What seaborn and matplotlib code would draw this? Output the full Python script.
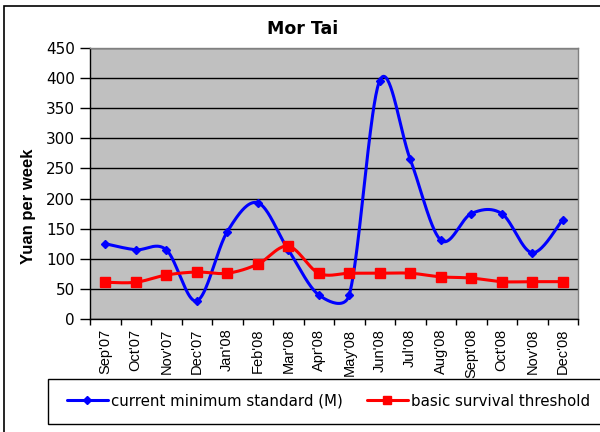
import numpy as np
import pandas as pd
import matplotlib
matplotlib.use("Agg")
import matplotlib.pyplot as plt
import seaborn as sns
from matplotlib.patches import Rectangle
from matplotlib.lines import Line2D

months = ["Sep'07", "Oct'07", "Nov'07", "Dec'07", "Jan'08", "Feb'08", "Mar'08", "Apr'08",
          "May'08", "Jun'08", "Jul'08", "Aug'08", "Sept'08", "Oct'08", "Nov'08", "Dec'08"]
current_min = [125, 115, 115, 30, 145, 193, 115, 40, 40, 396, 265, 131, 175, 175, 110, 165]
survival = [61, 61, 73, 78, 76, 91, 121, 76, 76, 76, 76, 70, 68, 62, 62, 62]
series_names = ["current minimum standard (M)", "basic survival threshold"]
title = "Mor Tai"
ylabel = "Yuan per week"

sns.set_theme(style="white")
plt.rcParams['font.family'] = ['Liberation Sans', 'DejaVu Sans']
plt.rcParams.update({"text.color": "black", "axes.labelcolor": "black",
                     "xtick.color": "black", "ytick.color": "black"})

W, H = 600, 432
L, R, T, B = 90, 578, 48, 319
XS = (R - L) / len(months)      # pixels per category
YS = (B - T) / 450.0            # pixels per unit


def smooth(x, y, n=40):
    # Excel-like smoothed line: cubic Bezier with 1/6 tangents, capped per segment
    P = np.column_stack([np.asarray(x, float) * XS, np.asarray(y, float) * YS])
    P = np.vstack([P[0], P, P[-1]])
    out = []
    for i in range(1, len(P) - 2):
        p0, p1, p2, p3 = P[i - 1], P[i], P[i + 1], P[i + 2]
        seg_len = np.hypot(*(p2 - p1))
        t1 = (p2 - p0) / 6.0
        t2 = (p3 - p1) / 6.0
        cap = 0.5 * seg_len
        for tv in (t1, t2):
            ln = np.hypot(*tv)
            if ln > cap and ln > 0:
                tv *= cap / ln
        c1 = p1 + t1
        c2 = p2 - t2
        t = np.linspace(0, 1, n)[:, None]
        seg = (1 - t) ** 3 * p1 + 3 * (1 - t) ** 2 * t * c1 + 3 * (1 - t) * t ** 2 * c2 + t ** 3 * p2
        out.append(seg if i == 1 else seg[1:])
    out = np.vstack(out)
    return out[:, 0] / XS, out[:, 1] / YS


fig = plt.figure(figsize=(6, 4.32), dpi=100)
ax = fig.add_axes([L / W, 1 - B / H, (R - L) / W, (B - T) / H])
ax.set_facecolor("#C0C0C0")

xpos = np.arange(len(months))
colors = ["#0000FF", "#FF0000"]
markers = ["D", "s"]
msizes = [4.5, 7]
for vals, name, c, m, ms in zip([current_min, survival], series_names, colors, markers, msizes):
    sx, sy = smooth(xpos, vals)
    df_s = pd.DataFrame({"x": sx, "y": sy})
    sns.lineplot(data=df_s, x="x", y="y", ax=ax, color=c, linewidth=2.2, sort=False, zorder=3)
    ax.plot(xpos, vals, linestyle="none", marker=m, color=c, markersize=ms,
            markeredgecolor=c, zorder=4)

ax.set_xlim(-0.5, len(months) - 0.5)
ax.set_ylim(0, 450)
ax.set_yticks(np.arange(0, 451, 50))
ax.yaxis.grid(True, color="black", linewidth=1.0)
ax.set_axisbelow(True)
ax.tick_params(axis="y", which="major", direction="out", length=7, width=1, color="black",
               labelcolor="black", labelsize=11, pad=4, left=True)
for lab in ax.get_yticklabels():
    lab.set_fontfamily(['DejaVu Sans'])

ax.set_xticks(np.arange(-0.5, len(months), 1))
ax.set_xticklabels([])
ax.tick_params(axis="x", which="major", direction="out", length=4, width=1, color="black", bottom=True)
ax.set_xticks(xpos, minor=True)
ax.set_xticklabels(months, minor=True, rotation=90, fontsize=10.5, color="black")
ax.tick_params(axis="x", which="minor", length=0, pad=7, labelcolor="black")
ax.set_xlabel("")
ax.set_ylabel("")

for s in ["top", "right"]:
    ax.spines[s].set_color("#808080")
    ax.spines[s].set_linewidth(1)
for s in ["left", "bottom"]:
    ax.spines[s].set_color("black")
    ax.spines[s].set_linewidth(1)

fig.text(303 / W, 1 - 29 / H, title, ha="center", va="center", fontsize=12.5,
         fontweight="bold", family=['DejaVu Sans'], color="black")
fig.text(28 / W, 1 - 206 / H, ylabel, ha="center", va="center", rotation=90, fontsize=12,
         fontweight="bold", color="black")

# outer chart frame
fig.patches.append(Rectangle((4 / W, -0.05), 1.1, 1 - 6 / H + 0.05, transform=fig.transFigure,
                             fill=False, edgecolor="black", linewidth=1.2))
# legend box
fig.patches.append(Rectangle((48 / W, 1 - 424 / H), (620 - 48) / W, 45 / H, transform=fig.transFigure,
                             facecolor="white", edgecolor="black", linewidth=1))
handles = [Line2D([], [], color=c, marker=m, markersize=ms * 0.9, linewidth=2.2)
           for c, m, ms in zip(colors, markers, msizes)]
leg = fig.legend(handles, series_names, loc="center left", bbox_to_anchor=(61 / W, 1 - 401 / H),
                 ncol=2, frameon=False, handlelength=2.7, handletextpad=0.25,
                 columnspacing=1.6, borderaxespad=0,
                 prop={'family': ['DejaVu Sans'], 'size': 10.8})
for txt in leg.get_texts():
    txt.set_color("black")

fig.savefig("out.png", dpi=100)
